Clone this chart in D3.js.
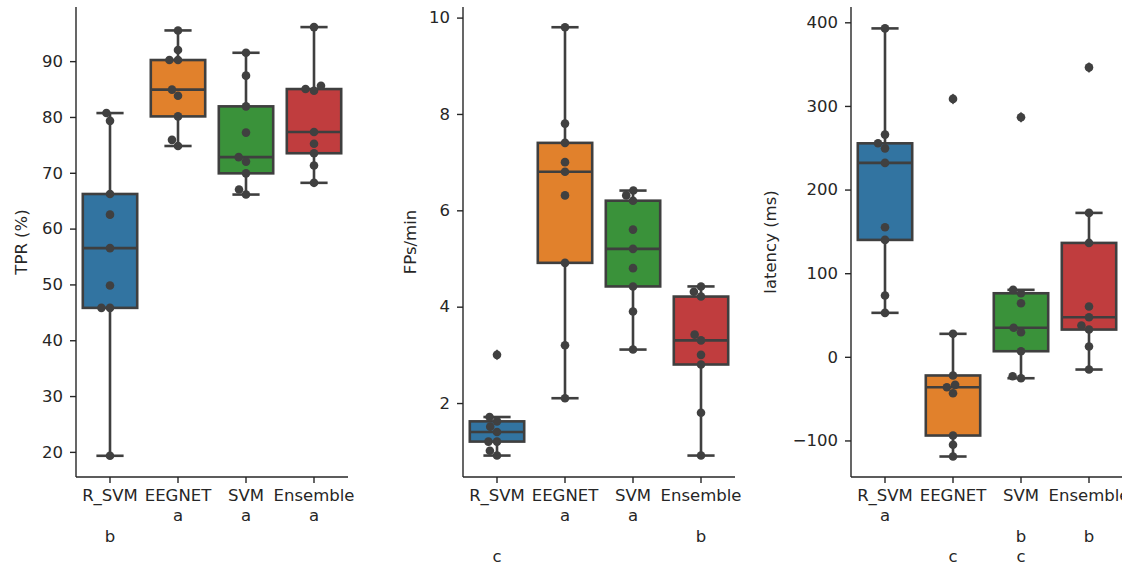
<!DOCTYPE html>
<html>
<head>
<meta charset="utf-8">
<script src="https://cdn.jsdelivr.net/npm/d3@7"></script>
<style>
  body { margin: 0; background: #fff; }
  svg text { font-family: "DejaVu Sans", sans-serif; fill: #262626; }
</style>
</head>
<body>
<svg id="chart"></svg>
<script>
// data
const categories = ["R_SVM", "EEGNET", "SVM", "Ensemble"];
const colors = ["#3274a1", "#e1812c", "#3a923a", "#c03d3e"];

const tprValues = [
  [80.7, 79.3, 66.2, 62.5, 56.5, 49.8, 45.8, 45.8, 19.3],
  [95.5, 92.0, 90.2, 90.2, 84.9, 83.8, 80.1, 75.9, 74.8],
  [91.5, 87.4, 81.9, 77.2, 72.8, 72.0, 69.9, 67.0, 66.1],
  [96.1, 85.6, 85.0, 84.7, 77.3, 75.2, 73.5, 71.3, 68.2]
];
const fpsValues = [
  [3.0, 1.71, 1.62, 1.51, 1.40, 1.20, 1.20, 1.01, 0.91],
  [9.80, 7.80, 7.40, 7.00, 6.80, 6.31, 4.91, 3.20, 2.10],
  [6.41, 6.31, 6.20, 5.60, 5.20, 4.80, 4.42, 3.90, 3.11],
  [4.42, 4.31, 4.21, 3.42, 3.30, 3.00, 2.80, 1.80, 0.91]
];
const latValues = [
  [392.7, 265.7, 255.3, 249.3, 231.9, 154.9, 139.8, 73.3, 52.6],
  [308.4, 27.5, -22.3, -33.5, -36.3, -43.5, -94.1, -105.2, -119.2],
  [286.4, 80.1, 76.0, 64.1, 34.7, 29.4, 6.7, -23.2, -25.6],
  [346.1, 172.1, 136.2, 60.1, 47.3, 37.4, 32.6, 12.3, -15.2]
];

// tick labels (category + significance letters on extra lines)
const tprLabels = ["R_SVM\n\nb", "EEGNET\na", "SVM\na", "Ensemble\na"];
const fpsLabels = ["R_SVM\n\n\nc", "EEGNET\na", "SVM\na", "Ensemble\n\nb"];
const latLabels = ["R_SVM\na", "EEGNET\n\n\nc", "SVM\n\nb\nc", "Ensemble\n\nb"];

const tprTicks = [20, 30, 40, 50, 60, 70, 80, 90];
const fpsTicks = [2, 4, 6, 8, 10];
const latTicks = [-100, 0, 100, 200, 300, 400];

const W = 1122, H = 567;
const plotTop = 7, plotBottom = 477;
const fontSize = 16.5;

const panels = [
  { values: tprValues, labels: tprLabels, ticks: tprTicks, domain: [15.5, 99.7], ylabel: "TPR (%)", left: 76, right: 348, labelX: 21 },
  { values: fpsValues, labels: fpsLabels, ticks: fpsTicks, domain: [0.465, 10.22], ylabel: "FPs/min", left: 463, right: 735, labelX: 410 },
  { values: latValues, labels: latLabels, ticks: latTicks, domain: [-143.7, 418.3], ylabel: "latency (ms)", left: 851, right: 1123, labelX: 770 }
];

const svg = d3.select("#chart").attr("width", W).attr("height", H);

const lineColor = "#3f3f3f";
const dotColor = "#404040";
const dotD = 8.6;

// simple beeswarm, like seaborn's swarmplot: sorted by value, nearest free spot to the centre
let swarm = (ys) => {
  const order = d3.range(ys.length).sort((a, b) => ys[b] - ys[a]);
  const placed = [];
  const offs = new Array(ys.length);
  order.forEach(i => {
    const y = ys[i];
    const near = placed.filter(p => Math.abs(p.y - y) < dotD);
    let cands = [0];
    near.forEach(p => {
      const dx = Math.sqrt(dotD * dotD - (p.y - y) * (p.y - y));
      cands.push(p.x - dx, p.x + dx);
    });
    cands.sort((a, b) => (Math.abs(a) - Math.abs(b)) || (a - b));
    const ok = cands.find(c => near.every(p => (c - p.x) ** 2 + (p.y - y) ** 2 >= dotD * dotD - 0.01));
    offs[i] = ok;
    placed.push({ x: ok, y: y });
  });
  return offs;
};

let boxStats = (vals) => {
  const s = vals.slice().sort(d3.ascending);
  const q1 = d3.quantile(s, 0.25), med = d3.quantile(s, 0.5), q3 = d3.quantile(s, 0.75);
  const iqr = q3 - q1;
  const inside = s.filter(v => v >= q1 - 1.5 * iqr && v <= q3 + 1.5 * iqr);
  return { q1, med, q3, lo: d3.min(inside), hi: d3.max(inside),
           out: s.filter(v => v < q1 - 1.5 * iqr || v > q3 + 1.5 * iqr) };
};

panels.forEach(p => {
  const x = d3.scaleBand().domain(categories).range([p.left, p.right]);
  const y = d3.scaleLinear().domain(p.domain).range([plotBottom, plotTop]);
  const g = svg.append("g");
  const bw = x.bandwidth() * 0.8;

  // axes
  const yAxis = d3.axisLeft(y).tickValues(p.ticks).tickSize(6).tickPadding(7)
    .tickFormat(d => d3.format("d")(d).replace("-", "\u2212"));
  const yg = g.append("g").attr("transform", `translate(${p.left},0)`).call(yAxis);
  yg.select(".domain").attr("d", `M0,${plotTop}V${plotBottom}`);

  const xAxis = d3.axisBottom(x).tickSize(6).tickPadding(6);
  const xg = g.append("g").attr("transform", `translate(0,${plotBottom})`).call(xAxis);
  xg.select(".domain").attr("d", `M${p.left},0H${p.right}`);

  [yg, xg].forEach(a => {
    a.select(".domain").attr("stroke", "#262626").attr("stroke-width", 1.4);
    a.selectAll(".tick line").attr("stroke", "#262626").attr("stroke-width", 1.4);
    a.selectAll(".tick text").attr("font-size", fontSize).attr("fill", "#262626")
      .style("font-family", '"DejaVu Sans", sans-serif');
  });

  // multi-line tick labels; empty lines still take their 20px
  xg.selectAll(".tick text").each(function (d, i) {
    const t = d3.select(this).text(null).attr("dy", null).attr("y", 0);
    p.labels[i].split("\n").forEach((line, k) => {
      if (line) t.append("tspan").attr("x", 0).attr("y", 24 + k * 20.3).text(line);
    });
  });

  g.append("text")
    .attr("transform", `translate(${p.labelX},${(plotTop + plotBottom) / 2}) rotate(-90)`)
    .attr("text-anchor", "middle").attr("dy", "0.35em")
    .attr("font-size", fontSize).text(p.ylabel);

  // boxes
  p.values.forEach((vals, i) => {
    const st = boxStats(vals);
    const cx = x(categories[i]) + x.bandwidth() / 2;
    const bg = g.append("g").attr("stroke", lineColor).attr("stroke-width", 2.6).attr("fill", "none");
    bg.append("line").attr("x1", cx).attr("x2", cx).attr("y1", y(st.q3)).attr("y2", y(st.hi));
    bg.append("line").attr("x1", cx).attr("x2", cx).attr("y1", y(st.q1)).attr("y2", y(st.lo));
    bg.append("line").attr("x1", cx - bw / 4).attr("x2", cx + bw / 4).attr("y1", y(st.hi)).attr("y2", y(st.hi));
    bg.append("line").attr("x1", cx - bw / 4).attr("x2", cx + bw / 4).attr("y1", y(st.lo)).attr("y2", y(st.lo));
    bg.append("rect").attr("x", cx - bw / 2).attr("width", bw)
      .attr("y", y(st.q3)).attr("height", y(st.q1) - y(st.q3))
      .attr("fill", colors[i]);
    bg.append("line").attr("x1", cx - bw / 2).attr("x2", cx + bw / 2).attr("y1", y(st.med)).attr("y2", y(st.med));
    st.out.forEach(v => {
      g.append("path").attr("d", "M0,-5.5L4.2,0L0,5.5L-4.2,0Z")
        .attr("transform", `translate(${cx},${y(v)})`).attr("fill", lineColor);
    });
  });

  // swarm dots
  p.values.forEach((vals, i) => {
    const cx = x(categories[i]) + x.bandwidth() / 2;
    const ys = vals.map(v => y(v));
    const offs = swarm(ys);
    g.append("g").selectAll("circle").data(vals).enter().append("circle")
      .attr("cx", (d, k) => cx + offs[k]).attr("cy", d => y(d))
      .attr("r", 4.3).attr("fill", dotColor);
  });
});
</script>
</body>
</html>
